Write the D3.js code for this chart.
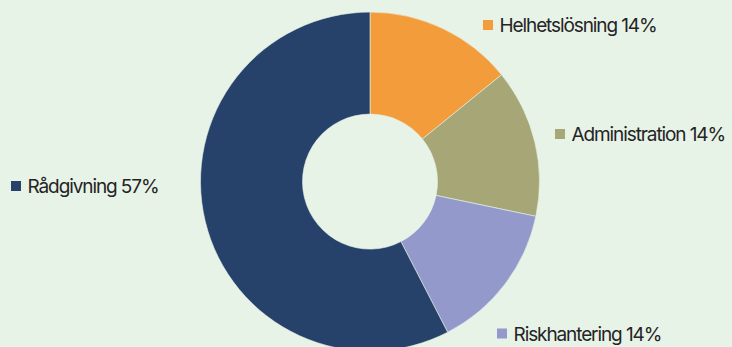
<!DOCTYPE html>
<html>
<head>
<meta charset="utf-8">
<script src="https://cdn.jsdelivr.net/npm/d3@7"></script>
<style>
  html, body { margin: 0; padding: 0; background: #e8f3e8; }
  svg { display: block; }
  text { font-family: Inter, "Noto Sans", sans-serif; font-size: 19px; font-weight: 400; fill: #242424; }
</style>
</head>
<body>
<svg id="chart" width="732" height="347"></svg>
<script>
// Service mix, share per category (percent)
const categories = ["Helhetslösning", "Administration", "Riskhantering", "Rådgivning"];
const values = [14, 14, 14, 57];
const colors = ["#f39c3c", "#a7a676", "#939acb", "#26426a"];

// Label anchors (left edge of the legend square, vertical centre)
const labelAnchors = [
  [483, 25],
  [555, 134],
  [497, 333.5],
  [11, 186]
];

const width = 732, height = 347;
const cx = 370, cy = 181.6;
const outerR = 169.5, innerR = 67.5;

const svg = d3.select("#chart");
svg.append("rect").attr("width", width).attr("height", height).attr("fill", "#e8f3e8");

const pie = d3.pie().sort(null).value(d => d.value);
const arc = d3.arc().innerRadius(innerR).outerRadius(outerR);

const data = categories.map((c, i) => ({ name: c, value: values[i], color: colors[i], anchor: labelAnchors[i] }));

const g = svg.append("g").attr("transform", `translate(${cx},${cy})`);
g.selectAll("path")
  .data(pie(data))
  .join("path")
  .attr("d", arc)
  .attr("fill", d => d.data.color)
  .attr("stroke", "#e8f3e8")
  .attr("stroke-width", 0.6);

const labels = svg.selectAll("g.label")
  .data(data)
  .join("g")
  .attr("class", "label")
  .attr("transform", d => `translate(${d.anchor[0]},${d.anchor[1]})`);

labels.append("rect")
  .attr("x", 0).attr("y", -5)
  .attr("width", 10).attr("height", 10)
  .attr("fill", d => d.color);

labels.append("text")
  .attr("x", 16.5)
  .attr("y", 7)
  .style("letter-spacing", "-1.1px")
  .text(d => `${d.name} ${d.value}%`);
</script>
</body>
</html>
